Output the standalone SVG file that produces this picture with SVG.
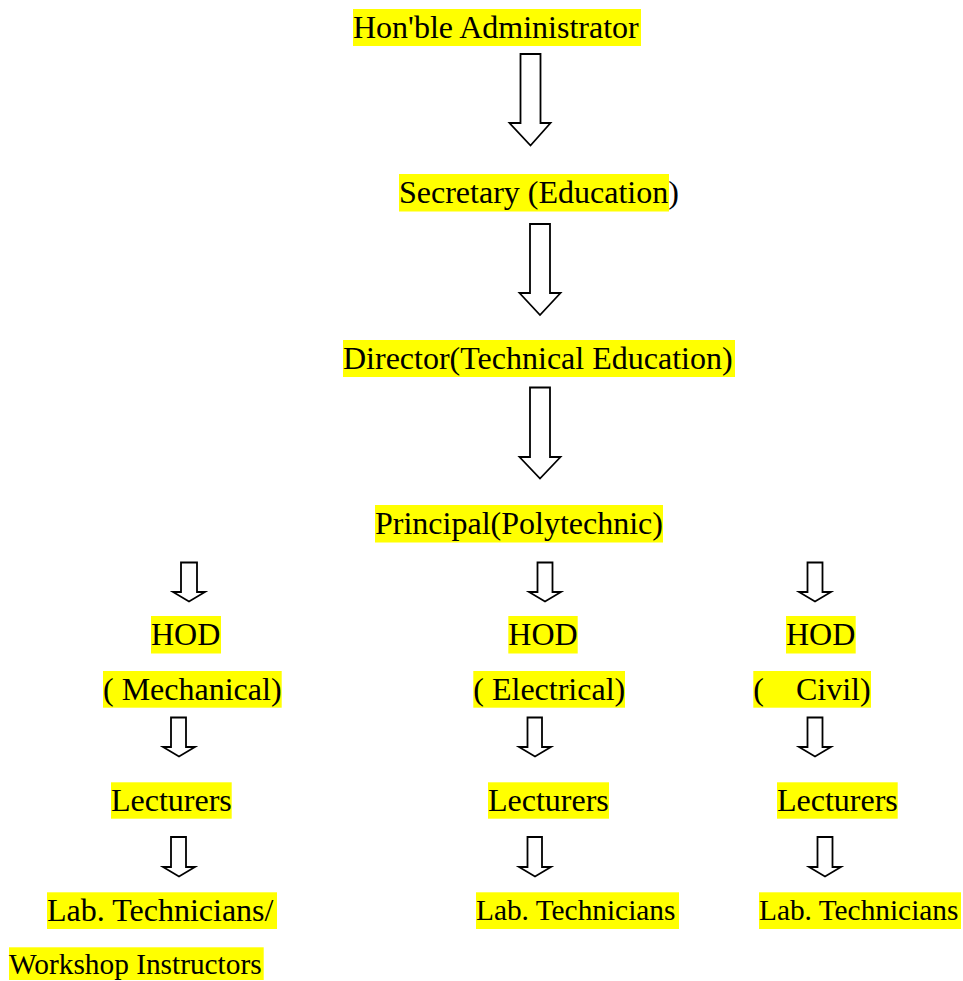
<svg xmlns="http://www.w3.org/2000/svg" width="963" height="981" viewBox="0 0 963 981">
<style>
.hl{fill:#ffff00}
.t{font-family:'Liberation Serif','DejaVu Serif',serif;font-size:32px;fill:#000}
.s{font-size:29.33px}
.ar{fill:#fff;stroke:#000;stroke-width:1.8;stroke-linejoin:miter}
</style>
<rect width="963" height="981" fill="#fff"/>
<g id="n-administrator">
<rect class="hl" x="353" y="9" width="288" height="37"/>
<text class="t" x="353" y="38" font-family="Liberation Serif">Hon'ble Administrator</text>
</g>
<g id="n-secretary">
<rect class="hl" x="399" y="174" width="270" height="37.5"/>
<text class="t" x="399" y="203">Secretary (Education)</text>
</g>
<g id="n-director">
<rect class="hl" x="343" y="340" width="392" height="37"/>
<text class="t" x="343" y="369">Director(Technical Education)</text>
</g>
<g id="n-principal">
<rect class="hl" x="375" y="505" width="288" height="37.5"/>
<text class="t" x="375" y="534">Principal(Polytechnic)</text>
</g>
<g id="n-hod-mech">
<rect class="hl" x="151" y="616" width="70" height="37.5"/>
<text class="t" x="151" y="645">HOD</text>
<rect class="hl" x="103" y="671" width="178.7" height="36.7"/>
<text class="t" x="103" y="700" xml:space="preserve">( Mechanical)</text>
</g>
<g id="n-hod-elec">
<rect class="hl" x="508.3" y="616" width="69.4" height="37.5"/>
<text class="t" x="508.3" y="645">HOD</text>
<rect class="hl" x="473.3" y="671" width="151.7" height="36.7"/>
<text class="t" x="473.3" y="700" xml:space="preserve">( Electrical)</text>
</g>
<g id="n-hod-civil">
<rect class="hl" x="786" y="616" width="69.7" height="37.5"/>
<text class="t" x="786" y="645">HOD</text>
<rect class="hl" x="753.3" y="671" width="117.7" height="36.7"/>
<text class="t" x="753.3" y="700" xml:space="preserve">(    Civil)</text>
</g>
<g id="n-lect-mech">
<rect class="hl" x="111" y="782.3" width="120.7" height="36.4"/>
<text class="t" x="111" y="811">Lecturers</text>
</g>
<g id="n-lect-elec">
<rect class="hl" x="488" y="782.3" width="121" height="36.4"/>
<text class="t" x="488" y="811">Lecturers</text>
</g>
<g id="n-lect-civil">
<rect class="hl" x="777" y="782.3" width="120.7" height="36.4"/>
<text class="t" x="777" y="811">Lecturers</text>
</g>
<g id="n-lab-mech">
<rect class="hl" x="47" y="892.3" width="230" height="36.7"/>
<text class="t" x="47" y="921">Lab. Technicians/</text>
<rect class="hl" x="9" y="947.3" width="254.7" height="32.7"/>
<text class="t s" x="9" y="974">Workshop Instructors</text>
</g>
<g id="n-lab-elec">
<rect class="hl" x="476" y="892.3" width="203" height="36.7"/>
<text class="t s" x="476" y="920">Lab. Technicians</text>
</g>
<g id="n-lab-civil">
<rect class="hl" x="759" y="892.3" width="202" height="36.7"/>
<text class="t s" x="759" y="920">Lab. Technicians</text>
</g>
<g id="connectors">
<polygon class="ar" points="520.5,54 540.5,54 540.5,123 550.5,123 530.5,145.5 509.5,123 520.5,123"/>
<polygon class="ar" points="530,224 550,224 550,293 560.5,293 540,315 519.5,293 530,293"/>
<polygon class="ar" points="530,387.5 550,387.5 550,457 560.5,457 540,478.5 519.5,457 530,457"/>
<polygon class="ar" points="181,562.5 197,562.5 197,592 205,592 189,601.5 173,592 181,592"/>
<polygon class="ar" points="537.5,562.5 552.5,562.5 552.5,592 561,592 545,601.5 529,592 537.5,592"/>
<polygon class="ar" points="807.5,562.5 822.5,562.5 822.5,592 831,592 815,601.5 799,592 807.5,592"/>
<polygon class="ar" points="171,717.5 186,717.5 186,747 195,747 179,756.5 163,747 171,747"/>
<polygon class="ar" points="527.5,717.5 542,717.5 542,747 551,747 535,756.5 519,747 527.5,747"/>
<polygon class="ar" points="807.5,717.5 822.5,717.5 822.5,747 831,747 815,756.5 799,747 807.5,747"/>
<polygon class="ar" points="171,837 186,837 186,867 195,867 179,876.5 163,867 171,867"/>
<polygon class="ar" points="527.5,837 542,837 542,867 551,867 535,876.5 519,867 527.5,867"/>
<polygon class="ar" points="817.5,837 832.5,837 832.5,867 841,867 825,876.5 809,867 817.5,867"/>
</g>
</svg>
